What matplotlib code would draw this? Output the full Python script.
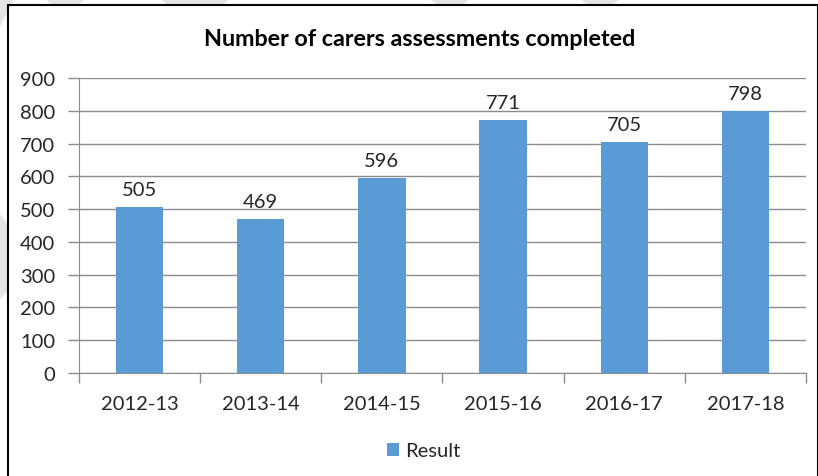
import matplotlib
matplotlib.use("Agg")
import matplotlib.pyplot as plt
from matplotlib.patches import Rectangle, Polygon

categories = ["2012-13", "2013-14", "2014-15", "2015-16", "2016-17", "2017-18"]
values = [505, 469, 596, 771, 705, 798]
series_name = "Result"
title = "Number of carers assessments completed"
y_ticks = [0, 100, 200, 300, 400, 500, 600, 700, 800, 900]

plt.rcParams['font.family'] = ['Lato', 'DejaVu Sans']

W, H = 818, 477
fig = plt.figure(figsize=(W / 100, H / 100), dpi=100)

def fx(px):
    return px / W

def fy(py):
    return 1 - py / H

# faint watermark bands
wm = "#e4e4e4"
for poly in [
    [(0, 0), (14, 0), (0, 28)],
    [(45, 0), (85, 0), (78, 6), (52, 6)],
    [(160, 0), (230, 0), (222, 6), (168, 6)],
    [(430, 0), (470, 0), (462, 6), (438, 6)],
    [(580, 0), (620, 0), (612, 6), (588, 6)],
    [(0, 215), (10, 228), (10, 290), (0, 300)],
]:
    fig.patches.append(Polygon([(fx(x), fy(y)) for x, y in poly], closed=True,
                               transform=fig.transFigure, facecolor=wm,
                               edgecolor='none', zorder=0))

# chart border
fig.patches.append(Rectangle((fx(8), fy(480)), fx(818) - fx(8), fy(6) - fy(480),
                             transform=fig.transFigure, facecolor='white',
                             edgecolor='black', linewidth=1.5, zorder=1))

ax = fig.add_axes([fx(79), fy(374), fx(806) - fx(79), fy(79) - fy(374)])
ax.set_zorder(2)
ax.patch.set_alpha(0)

fs = 14.5
x = list(range(len(categories)))
bars = ax.bar(x, values, width=0.39, color="#5B9BD5", zorder=3, label=series_name)
for xi, v in zip(x, values):
    ax.annotate(str(v), (xi, v), xytext=(0, 6.5), textcoords='offset points',
                ha='center', va='bottom', fontsize=fs, color='#262626')

ax.set_xlim(-0.5, len(categories) - 0.5)
ax.set_ylim(0, 900)
ax.set_yticks(y_ticks)
ax.set_yticklabels([str(t) for t in y_ticks], fontsize=fs, color='#262626')
ax.yaxis.grid(True, color='#8c8c8c', linewidth=1.0, zorder=0)
ax.set_axisbelow(True)

ax.set_xticks([i - 0.5 for i in range(len(categories) + 1)], minor=False)
ax.set_xticklabels([])
ax.set_xticks(x, minor=True)
ax.set_xticklabels(categories, minor=True, fontsize=fs, color='#262626')
ax.tick_params(axis='x', which='major', length=7, color='#8c8c8c', width=1)
ax.tick_params(axis='x', which='minor', length=0, pad=16)
ax.tick_params(axis='y', length=8, color='#8c8c8c', width=1, pad=9)

for s in ['top', 'right']:
    ax.spines[s].set_visible(False)
ax.spines['left'].set_color('#8c8c8c')
ax.spines['bottom'].set_color('#8c8c8c')

fig.text(fx(420), fy(40), title, ha='center', va='center', fontsize=16.8,
         fontweight='bold', color='black')

leg = fig.legend(handles=[bars], labels=[series_name], loc='center',
                 bbox_to_anchor=(fx(424), fy(452)), frameon=False, fontsize=fs,
                 handlelength=0.6, handleheight=0.6, handletextpad=0.3)
for t in leg.get_texts():
    t.set_color('#262626')

fig.savefig("out.png", dpi=100)
